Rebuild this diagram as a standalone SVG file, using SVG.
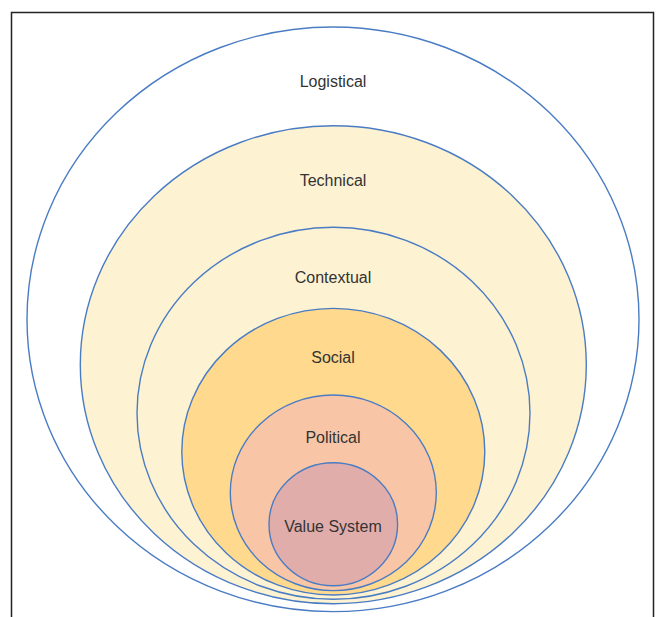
<svg xmlns="http://www.w3.org/2000/svg" width="660" height="617" viewBox="0 0 660 617">
<style>
.ring{stroke:#4A7CC4;stroke-width:1.4}
.lbl{font-family:"Liberation Sans",Arial,sans-serif;font-size:16px;fill:#333333;text-anchor:middle}
</style>
<rect width="660" height="617" fill="#ffffff"/>
<path d="M11.5,617 V12.5 H653.5 V617" fill="none" stroke="#222222" stroke-width="1.5"/>
<g id="logistical"><ellipse class="ring" cx="333" cy="319.3" rx="306" ry="292.3" fill="#ffffff"/><text class="lbl" x="333" y="86.7">Logistical</text></g>
<g id="technical"><ellipse class="ring" cx="333.3" cy="364.7" rx="253" ry="239" fill="#FDF2D2"/><text class="lbl" x="333" y="186">Technical</text></g>
<g id="contextual"><ellipse class="ring" cx="333.5" cy="413.3" rx="196.5" ry="186" fill="#FDF2D2"/><text class="lbl" x="333" y="282.7">Contextual</text></g>
<g id="social"><ellipse class="ring" cx="333.3" cy="451.7" rx="151.5" ry="143.3" fill="#FED98E"/><text class="lbl" x="333" y="362.7">Social</text></g>
<g id="political"><ellipse class="ring" cx="333.3" cy="492.8" rx="103" ry="97.8" fill="#F8C6A6"/><text class="lbl" x="333" y="442.7">Political</text></g>
<g id="value-system"><ellipse class="ring" cx="333.3" cy="524.2" rx="64.3" ry="61.5" fill="#E1ADAA"/><text class="lbl" x="333" y="532.3">Value System</text></g>
</svg>
